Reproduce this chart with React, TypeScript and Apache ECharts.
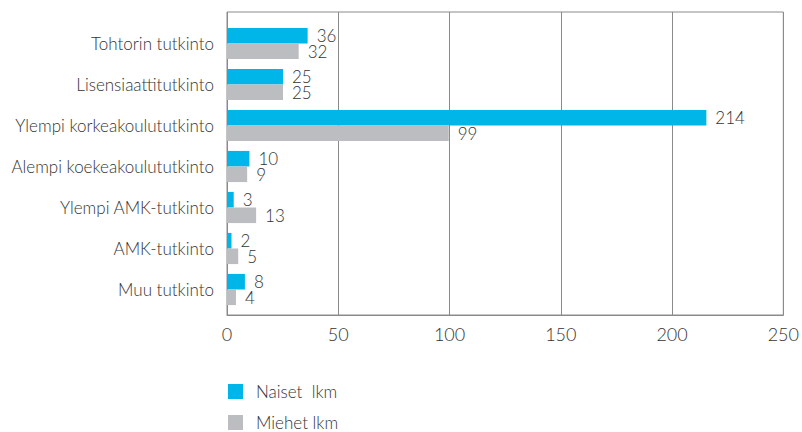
import React, { useEffect, useRef } from "react";
import * as echarts from "echarts";

const categories = [
  "Tohtorin tutkinto",
  "Lisensiaattitutkinto",
  "Ylempi korkeakoulututkinto",
  "Alempi koekeakoulututkinto",
  "Ylempi AMK-tutkinto",
  "AMK-tutkinto",
  "Muu tutkinto",
];
const naiset = [36, 25, 214, 10, 3, 2, 8];
const miehet = [32, 25, 99, 9, 13, 5, 4];
const seriesNames = ["Naiset  lkm", "Miehet lkm"];
const colors = ["#00B6E9", "#BCBDC0"];

const FONT = "Lato, 'Open Sans', sans-serif";

export default function App() {
  const ref = useRef<HTMLDivElement>(null);
  useEffect(() => {
    document.body.style.margin = "0";
    if (!ref.current) return;
    const chart = echarts.init(ref.current, undefined, { renderer: "svg" });
    const labelStyle = {
      show: true,
      position: "right" as const,
      distance: 9,
      color: "#333333",
      fontSize: 17,
      lineHeight: 15,
      fontFamily: FONT,
      fontWeight: 300,
    };
    chart.setOption({
      animation: false,
      backgroundColor: "#ffffff",
      textStyle: { fontFamily: FONT },
      legend: {
        orient: "vertical",
        left: 228,
        top: 383,
        height: 70,
        padding: 0,
        itemWidth: 15,
        itemHeight: 15,
        itemGap: 14,
        icon: "rect",
        textStyle: { color: "#333333", fontSize: 17, fontFamily: FONT, fontWeight: 300, padding: [0, 0, 0, 8] },
        data: seriesNames,
      },
      grid: [
        { left: 227, right: 15, top: 23, height: 287, containLabel: false },
        {
          left: 227,
          right: 15,
          top: 12,
          height: 303,
          show: true,
          borderColor: "#8a8a8a",
          borderWidth: 1,
          backgroundColor: "transparent",
        },
      ],
      xAxis: [
        {
          gridIndex: 0,
          type: "value",
          min: 0,
          max: 250,
          interval: 50,
          show: false,
        },
        {
          gridIndex: 1,
          type: "value",
          min: 0,
          max: 250,
          interval: 50,
          axisLine: { show: true, lineStyle: { color: "#8a8a8a" } },
          axisTick: { show: false },
          splitLine: { show: true, lineStyle: { color: "#8a8a8a", width: 1 } },
          axisLabel: { color: "#333333", fontSize: 18, fontFamily: FONT, fontWeight: 300, margin: 10 },
        },
      ],
      yAxis: [
        {
          gridIndex: 0,
          type: "category",
          data: categories,
          inverse: true,
          axisLine: { show: false },
          axisTick: { show: false },
          splitLine: { show: false },
          axisLabel: { color: "#333333", fontSize: 17, fontFamily: FONT, fontWeight: 300, margin: 13 },
        },
        {
          gridIndex: 1,
          type: "value",
          show: false,
          min: 0,
          max: 1,
        },
      ],
      series: [
        {
          name: seriesNames[0],
          type: "bar",
          xAxisIndex: 0,
          yAxisIndex: 0,
          data: naiset,
          itemStyle: { color: colors[0] },
          barGap: "0%",
          barCategoryGap: "24%",
          label: labelStyle,
        },
        {
          name: seriesNames[1],
          type: "bar",
          xAxisIndex: 0,
          yAxisIndex: 0,
          data: miehet,
          itemStyle: { color: colors[1] },
          barGap: "0%",
          barCategoryGap: "24%",
          label: labelStyle,
        },
      ],
    });
    return () => chart.dispose();
  }, []);
  return <div ref={ref} style={{ width: 802, height: 432 }} />;
}
